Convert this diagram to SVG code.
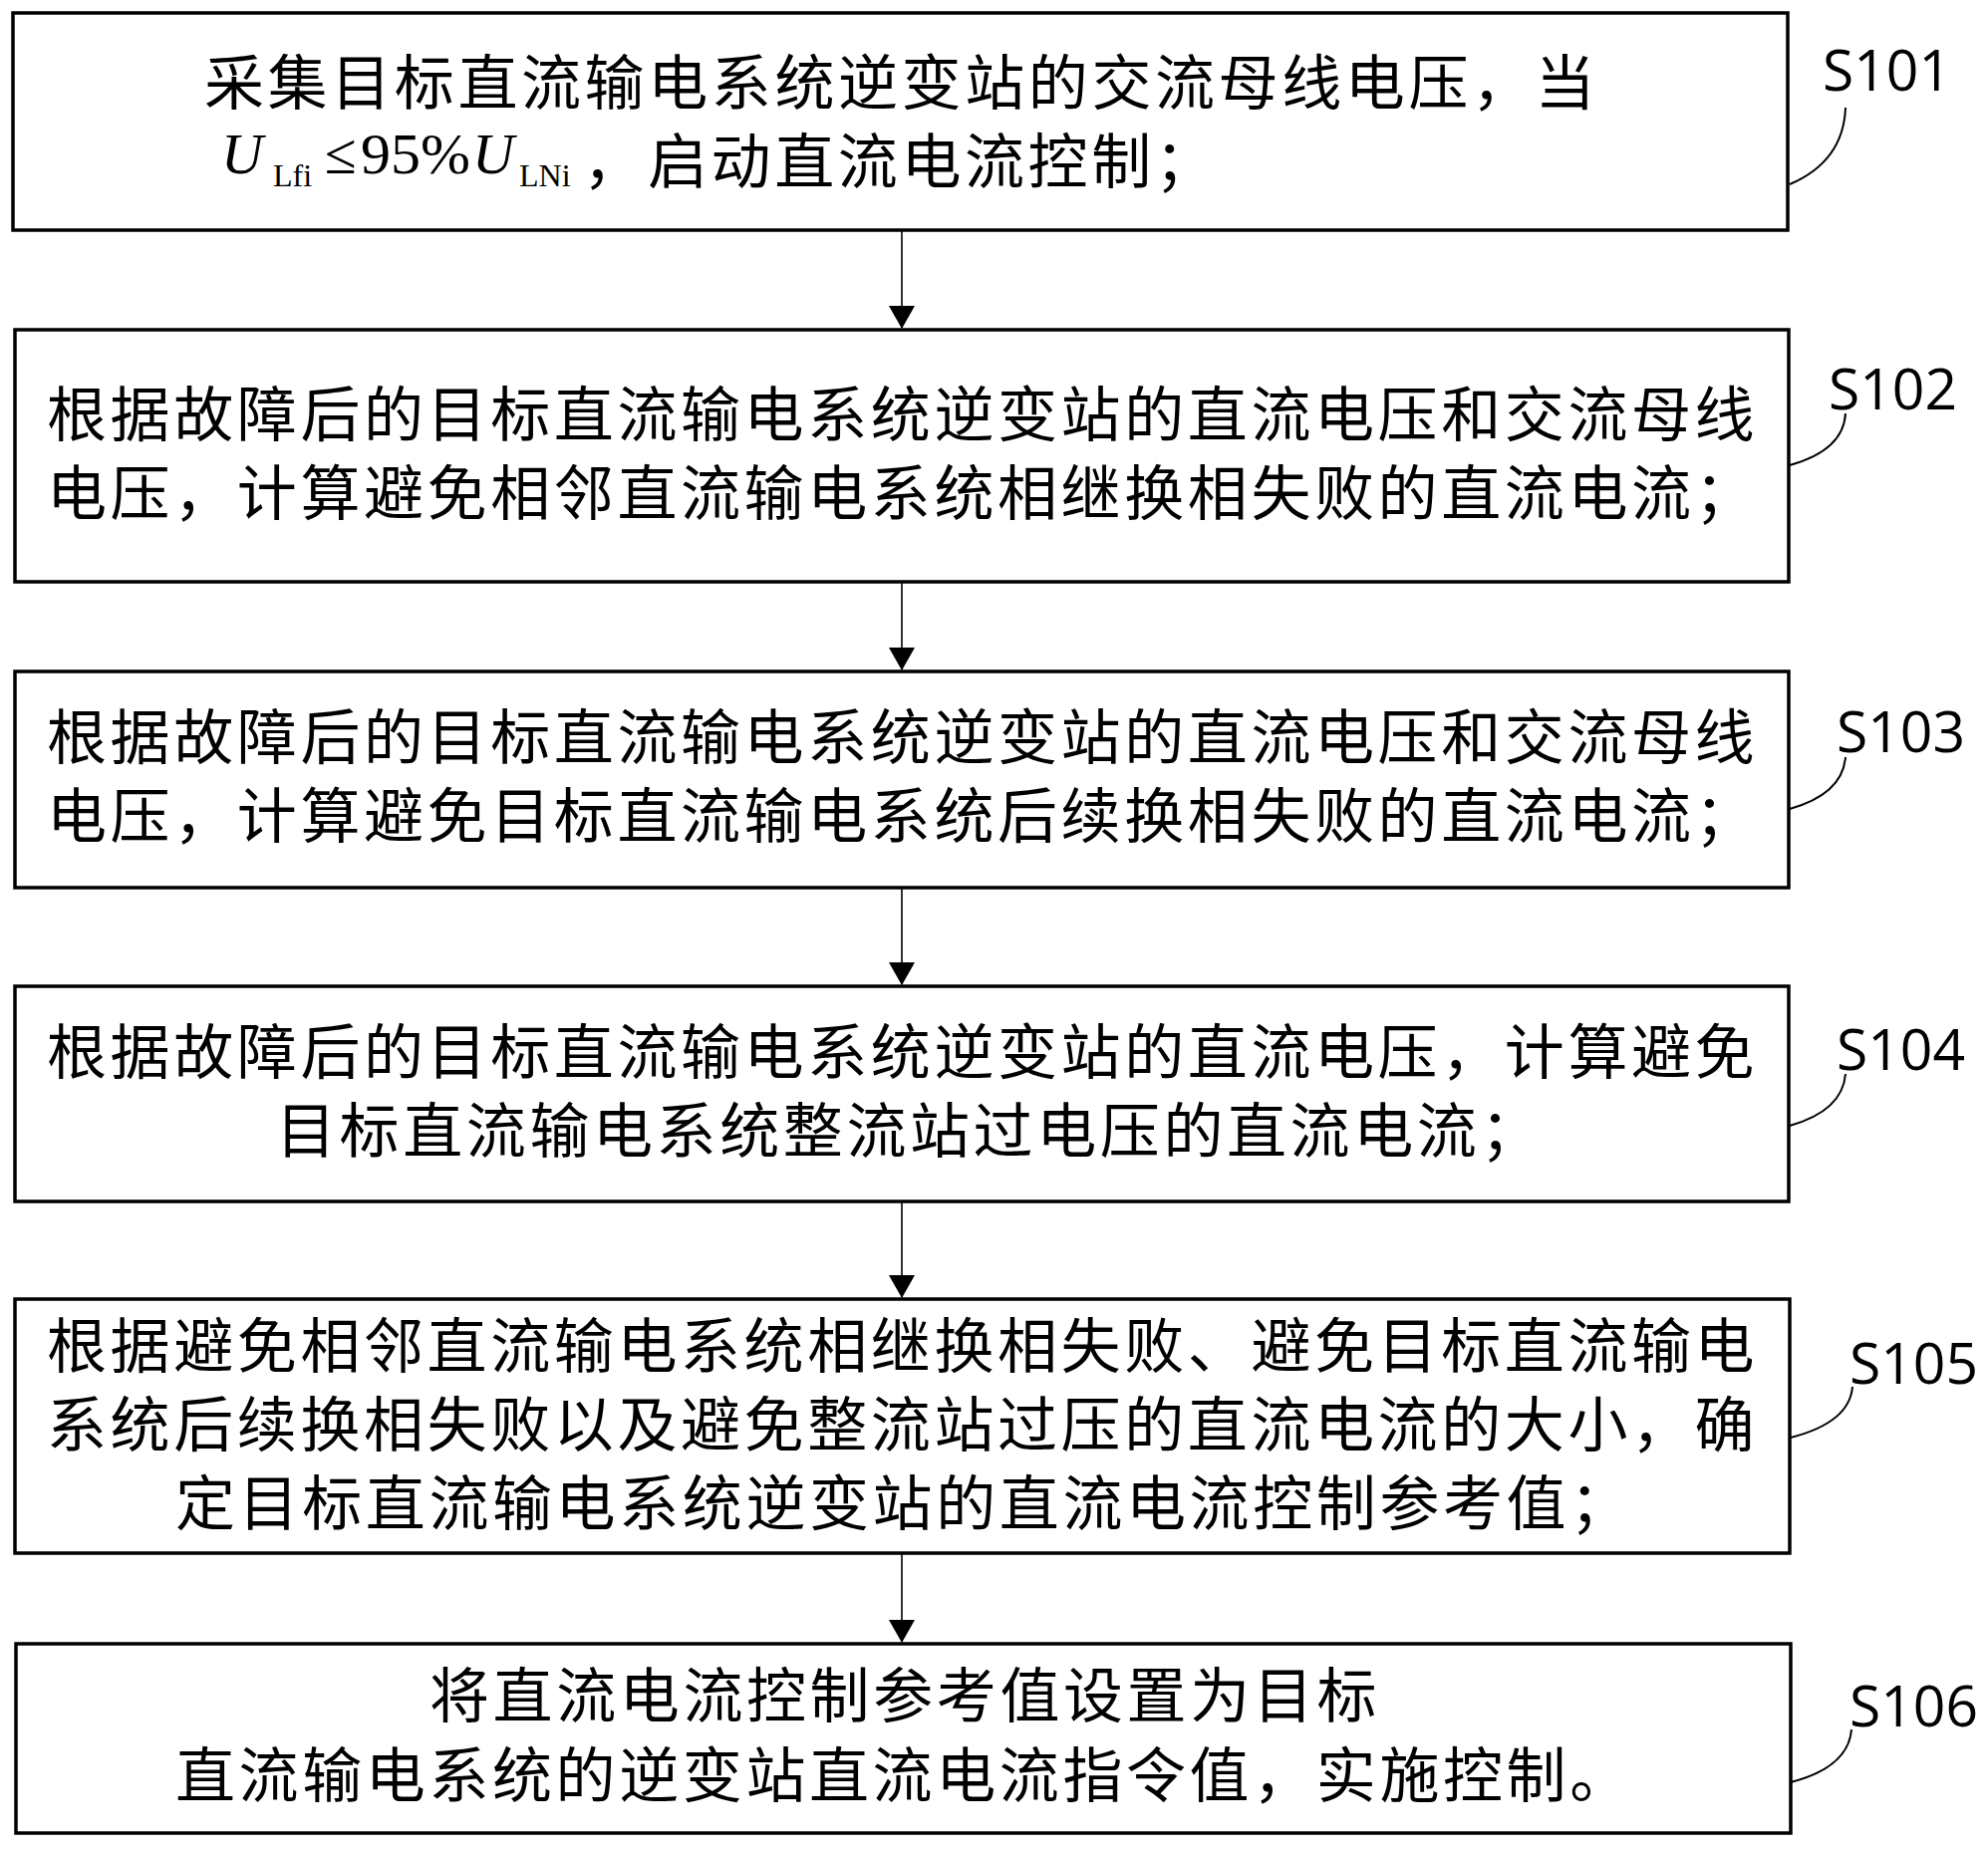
<svg xmlns="http://www.w3.org/2000/svg" width="1995" height="1856" viewBox="0 0 1995 1856">
<style>
.box{fill:#fff;stroke:#000;stroke-width:3.5}
.t{font-family:"Noto Sans CJK SC","Noto Sans CJK TC",sans-serif;font-size:60px;letter-spacing:3.6px;fill:#000}
.m{font-family:"Liberation Serif","Times New Roman",serif;font-size:58px;fill:#000}
.mi{font-style:italic}
.sub{font-family:"Liberation Serif","Times New Roman",serif;font-size:32px;fill:#000}
.lbl{font-family:"Open Sans","Liberation Sans",sans-serif;font-size:57px;fill:#000}
.lead{fill:none;stroke:#000;stroke-width:2}
.con{stroke:#000;stroke-width:1.6;fill:none}
.ah{fill:#000}
</style>
<rect width="1995" height="1856" fill="#fff"/>
<g id="connectors">
<line class="con" x1="905" y1="232" x2="905" y2="329"/>
<polygon class="ah" points="892,307 918,307 905,330"/>
<line class="con" x1="905" y1="585" x2="905" y2="672"/>
<polygon class="ah" points="892,650 918,650 905,673"/>
<line class="con" x1="905" y1="892" x2="905" y2="988"/>
<polygon class="ah" points="892,966 918,966 905,989"/>
<line class="con" x1="905" y1="1207" x2="905" y2="1302"/>
<polygon class="ah" points="892,1280 918,1280 905,1303"/>
<line class="con" x1="905" y1="1560" x2="905" y2="1648"/>
<polygon class="ah" points="892,1626 918,1626 905,1649"/>
</g>
<g id="S101">
<rect class="box" x="13" y="13" width="1781" height="218"/>
<text class="t" x="205" y="105">采集目标直流输电系统逆变站的交流母线电压，当</text>
<text class="m mi" x="222" y="174">U</text>
<text class="sub" x="274" y="187">Lfi</text>
<text class="m" x="326" y="174">≤</text>
<text class="m" x="362" y="174" textLength="110" lengthAdjust="spacingAndGlyphs">95%</text>
<text class="m mi" x="474" y="174">U</text>
<text class="sub" x="521" y="187">LNi</text>
<text class="t" x="585" y="184">，</text>
<text class="t" x="650" y="184">启动直流电流控制；</text>
<text class="lbl" x="1829" y="91">S101</text>
<path class="lead" d="M1796,185 Q1850,162 1852,108"/>
</g>
<g id="S102">
<rect class="box" x="15" y="331" width="1780" height="253"/>
<text class="t" x="47" y="438">根据故障后的目标直流输电系统逆变站的直流电压和交流母线</text>
<text class="t" x="47" y="517">电压，计算避免相邻直流输电系统相继换相失败的直流电流；</text>
<text class="lbl" x="1835" y="411">S102</text>
<path class="lead" d="M1796,467 Q1850,452 1852,415"/>
</g>
<g id="S103">
<rect class="box" x="15" y="674" width="1780" height="217"/>
<text class="t" x="47" y="762">根据故障后的目标直流输电系统逆变站的直流电压和交流母线</text>
<text class="t" x="47" y="841">电压，计算避免目标直流输电系统后续换相失败的直流电流；</text>
<text class="lbl" x="1843" y="755">S103</text>
<path class="lead" d="M1796,812 Q1849,797 1852,760"/>
</g>
<g id="S104">
<rect class="box" x="15" y="990" width="1780" height="216"/>
<text class="t" x="47" y="1078">根据故障后的目标直流输电系统逆变站的直流电压，计算避免</text>
<text class="t" x="277" y="1157">目标直流输电系统整流站过电压的直流电流；</text>
<text class="lbl" x="1843" y="1074">S104</text>
<path class="lead" d="M1796,1130 Q1849,1115 1852,1078"/>
</g>
<g id="S105">
<rect class="box" x="15" y="1304" width="1781" height="255"/>
<text class="t" x="47" y="1373">根据避免相邻直流输电系统相继换相失败、避免目标直流输电</text>
<text class="t" x="47" y="1452">系统后续换相失败以及避免整流站过压的直流电流的大小，确</text>
<text class="t" x="176" y="1531">定目标直流输电系统逆变站的直流电流控制参考值；</text>
<text class="lbl" x="1856" y="1389">S105</text>
<path class="lead" d="M1797,1443 Q1856,1428 1859,1392"/>
</g>
<g id="S106">
<rect class="box" x="16" y="1650" width="1781" height="190"/>
<text class="t" x="431" y="1724">将直流电流控制参考值设置为目标</text>
<text class="t" x="176" y="1804">直流输电系统的逆变站直流电流指令值，实施控制。</text>
<text class="lbl" x="1856" y="1733">S106</text>
<path class="lead" d="M1797,1789 Q1855,1774 1858,1736"/>
</g>
</svg>
